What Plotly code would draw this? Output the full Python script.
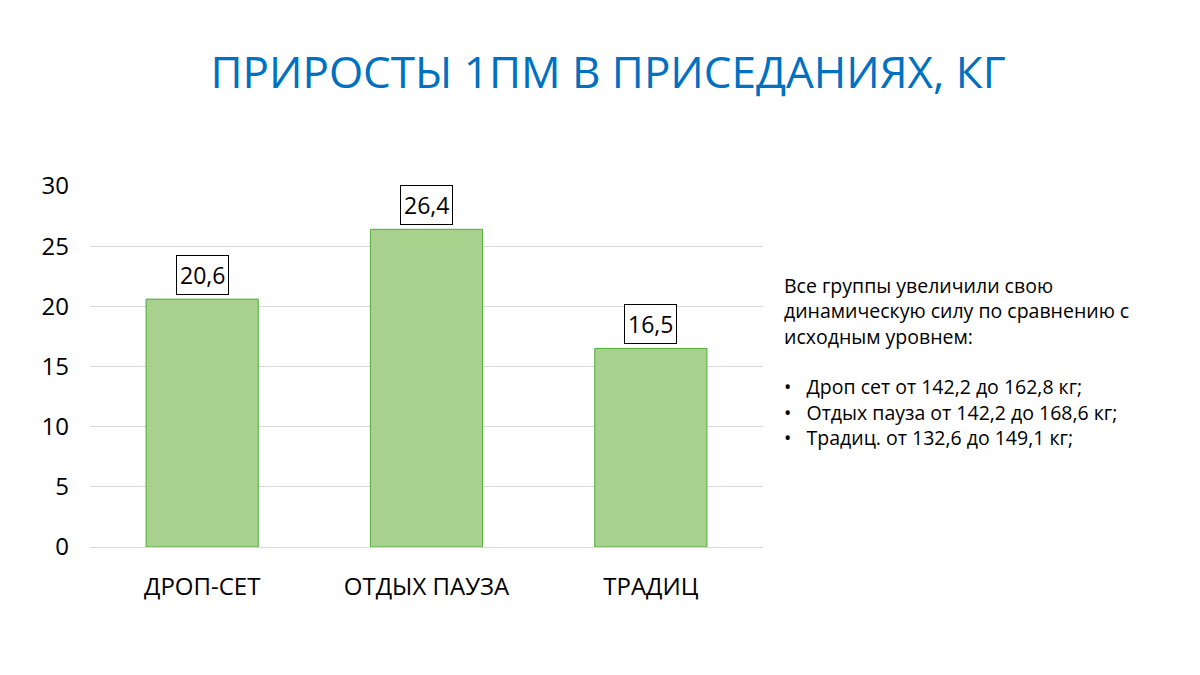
import plotly.graph_objects as go

categories = ["ДРОП-СЕТ", "ОТДЫХ ПАУЗА", "ТРАДИЦ"]
values = [20.6, 26.4, 16.5]
labels = ["20,6", "26,4", "16,5"]
note_lines = [
    "Все группы увеличили свою",
    "динамическую силу по сравнению с",
    "исходным уровнем:",
    "",
    "•   Дроп сет от 142,2 до 162,8 кг;",
    "•   Отдых пауза от 142,2 до 168,6 кг;",
    "•   Традиц. от 132,6 до 149,1 кг;",
]

fig = go.Figure(go.Bar(
    x=categories, y=values, width=0.5,
    marker=dict(color="#A9D18E", line=dict(color="#4EAD3A", width=1)),
))
for c, v, t in zip(categories, values, labels):
    fig.add_annotation(x=c, y=v, text=t, showarrow=False, yanchor="bottom", yshift=4,
                       font=dict(size=23, color="black", family="Open Sans, Calibri, sans-serif"),
                       bordercolor="black", borderwidth=1, borderpad=3, bgcolor="white")
fig.add_annotation(xref="paper", yref="paper", x=774/1200, y=1-262/675, xanchor="left", yanchor="top",
                   text="<br>".join(note_lines), align="left", showarrow=False,
                   font=dict(size=19.5, color="black", family="Open Sans, Calibri, sans-serif"))
fig.update_layout(
    width=1200, height=675, paper_bgcolor="white", plot_bgcolor="white", showlegend=False,
    margin=dict(l=0, r=0, t=0, b=0),
    font=dict(family="Open Sans, Calibri, sans-serif", color="black"),
    title=dict(text="ПРИРОСТЫ 1ПМ В ПРИСЕДАНИЯХ, КГ", x=0.5, xanchor="center", y=1-65/675, yanchor="middle",
               font=dict(size=44, color="#0070C0")),
    xaxis=dict(domain=[82/1200, 755/1200], tickfont=dict(size=24), showline=True, linecolor="#D9D9D9",
               ticks="", ticklabelstandoff=18, automargin=False),
    yaxis=dict(domain=[136/675, 497/675], range=[0, 30], dtick=5, gridcolor="#D9D9D9",
               tickfont=dict(size=24), ticklabelstandoff=20, zeroline=False, automargin=False),
)
fig.write_html("out.html")
